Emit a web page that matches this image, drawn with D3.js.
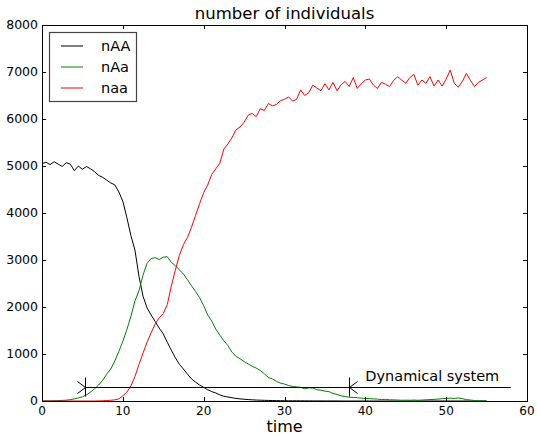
<!DOCTYPE html>
<html>
<head>
<meta charset="utf-8">
<script src="https://cdn.jsdelivr.net/npm/d3@7"></script>
<style>
  body { margin: 0; background: #fff; }
  svg { display: block; }
  text { font-family: "DejaVu Sans", sans-serif; }
</style>
</head>
<body>
<div id="chart"></div>
<script>
// sampled every 0.5 time units, t = 0 .. 55
const times = d3.range(0, 55.001, 0.5);

const nAA = [
  5050, 5080, 5030, 5090, 5040, 4990, 5070, 5040, 4900, 5000,
  4930, 4990, 4940, 4880, 4800, 4760, 4700, 4640, 4600, 4450,
  4250, 3900, 3520, 3210, 2650, 2230, 1980, 1830, 1690, 1550,
  1430, 1250, 1080, 920, 780, 680, 570, 470, 400, 340,
  290, 240, 200, 170, 130, 100, 85, 70, 55, 45,
  38, 30, 25, 20, 17, 14, 12, 10, 8, 7,
  6, 5, 5, 4, 4, 3, 3, 2, 2, 2,
  1, 1, 1, 1, 0, 0, 0, 0, 0, 0,
  0, 0, 0, 0, 0, 0, 0, 0, 0, 0,
  0, 0, 0, 0, 0, 0, 0, 0, 0, 0,
  0, 0, 0, 0, 0, 0, 0, 0, 0, 0,
  0
];

const nAa = [
  0, 2, 3, 5, 8, 12, 18, 28, 45, 65,
  90, 130, 190, 260, 340, 440, 570, 680, 850, 1050,
  1270, 1520, 1800, 2130, 2350, 2680, 2930, 3030, 3050, 3010,
  3060, 3070, 2950, 2880, 2790, 2700, 2580, 2450, 2330, 2200,
  2030, 1830, 1700, 1530, 1400, 1280, 1180, 1040, 950, 900,
  840, 790, 740, 700, 650, 580, 500, 470, 420, 380,
  360, 330, 310, 300, 290, 260, 280, 275, 240, 230,
  210, 200, 160, 140, 110, 95, 80, 75, 70, 60,
  55, 50, 45, 40, 30, 35, 25, 25, 20, 15,
  18, 15, 20, 15, 20, 25, 30, 35, 40, 50,
  55, 60, 55, 65, 50, 30, 20, 10, 5, 3,
  0
];

const naa = [
  0, 0, 0, 0, 0, 0, 0, 0, 0, 0,
  0, 0, 0, 0, 2, 5, 10, 15, 25, 45,
  110, 190, 320, 520, 780, 1020, 1250, 1450, 1640, 1770,
  1860, 2050, 2450, 2790, 3100, 3330, 3480, 3700, 3950, 4200,
  4430, 4600, 4820, 4940, 5060, 5360, 5470, 5600, 5770, 5830,
  5930, 6080, 6120, 6050, 6220, 6180, 6330, 6280, 6310, 6390,
  6420, 6470, 6380, 6420, 6620, 6500, 6560, 6720, 6660, 6600,
  6750, 6620, 6780, 6600, 6730, 6800, 6690, 6880, 6650, 6750,
  6830, 6850, 6720, 6650, 6780, 6740, 6690, 6820, 6900, 6830,
  6760, 6880, 6950, 6720, 6830, 6760, 6900, 6700, 6830, 6700,
  6850, 7040, 6760, 6680, 6800, 6970, 6820, 6690, 6780, 6830,
  6880
];

const seriesNames = ["nAA", "nAa", "naa"];
const seriesColors = ["#000000", "#008000", "#ff0000"];
const xTicks = [0, 10, 20, 30, 40, 50, 60];
const yTicks = [0, 1000, 2000, 3000, 4000, 5000, 6000, 7000, 8000];

// annotation: span of the dynamical system
const spanStart = 5.3, spanMark = 38, spanEnd = 58, spanLevel = 300;
const spanLabel = "Dynamical system";

const W = 537, H = 436;
const margin = { top: 25, right: 10, bottom: 35, left: 42 };
const width = W - margin.left - margin.right;
const height = H - margin.top - margin.bottom;

const svg = d3.select("#chart").append("svg")
    .attr("width", W)
    .attr("height", H);

const g = svg.append("g")
    .attr("transform", `translate(${margin.left},${margin.top})`);

const x = d3.scaleLinear().domain([0, 60]).range([0, width]);
const y = d3.scaleLinear().domain([0, 8000]).range([height, 0]);

// curves
const allSeries = [nAA, nAa, naa];
const line = d3.line()
    .x((d, i) => x(times[i]))
    .y(d => y(d));

allSeries.forEach((vals, k) => {
    g.append("path")
        .datum(vals)
        .attr("fill", "none")
        .attr("stroke", seriesColors[k])
        .attr("stroke-width", 1)
        .attr("stroke-linejoin", "round")
        .attr("d", line);
});

// annotation
const ann = g.append("g").attr("stroke", "#000").attr("stroke-width", 1).attr("fill", "none");
const yl = Math.round(y(spanLevel)) + 0.5;
ann.append("line")
    .attr("x1", x(spanStart)).attr("x2", x(spanEnd))
    .attr("y1", yl).attr("y2", yl);
[spanStart, spanMark].forEach((t, i) => {
    const px = Math.round(x(t)) + 0.5;
    ann.append("line")
        .attr("x1", px).attr("x2", px)
        .attr("y1", yl - 10).attr("y2", yl + 9);
    const dir = i === 0 ? -1 : 1;
    ann.append("path")
        .attr("d", `M${px + dir * 8},${yl - 6}L${px},${yl}L${px + dir * 8},${yl + 6}`);
});
g.append("text")
    .attr("x", x(40))
    .attr("y", yl - 7)
    .attr("font-size", "14.5px")
    .attr("fill", "#000")
    .text(spanLabel);

// frame
g.append("rect")
    .attr("x", 0.5).attr("y", 0.5)
    .attr("width", width).attr("height", height)
    .attr("fill", "none")
    .attr("stroke", "#000")
    .attr("stroke-width", 1);

// ticks (inward, all four sides)
const tk = g.append("g").attr("stroke", "#000").attr("stroke-width", 1);
xTicks.forEach(t => {
    const px = Math.round(x(t)) + 0.5;
    tk.append("line").attr("x1", px).attr("x2", px).attr("y1", height).attr("y2", height - 4);
    tk.append("line").attr("x1", px).attr("x2", px).attr("y1", 0).attr("y2", 4);
});
yTicks.forEach(v => {
    const py = Math.round(y(v)) + 0.5;
    tk.append("line").attr("x1", 0).attr("x2", 4).attr("y1", py).attr("y2", py);
    tk.append("line").attr("x1", width).attr("x2", width - 4).attr("y1", py).attr("y2", py);
});

g.selectAll(".xlab")
    .data(xTicks)
    .enter().append("text")
    .attr("x", d => x(d))
    .attr("y", height + 14)
    .attr("text-anchor", "middle")
    .attr("font-size", "12px")
    .text(d => d);

g.selectAll(".ylab")
    .data(yTicks)
    .enter().append("text")
    .attr("x", -4)
    .attr("y", d => y(d))
    .attr("dy", "0.35em")
    .attr("text-anchor", "end")
    .attr("font-size", "12.5px")
    .text(d => d);

// titles
g.append("text")
    .attr("x", width / 2)
    .attr("y", -6)
    .attr("text-anchor", "middle")
    .attr("font-size", "16.5px")
    .text("number of individuals");

g.append("text")
    .attr("x", width / 2)
    .attr("y", height + 31)
    .attr("text-anchor", "middle")
    .attr("font-size", "16px")
    .text("time");

// legend
const leg = svg.append("g").attr("transform", "translate(49,32)");
leg.append("rect")
    .attr("x", 0.5).attr("y", 0.5)
    .attr("width", 87).attr("height", 69)
    .attr("fill", "#fff")
    .attr("stroke", "#444")
    .attr("stroke-width", 1.2);
seriesNames.forEach((name, k) => {
    const ly = 14 + k * 21;
    leg.append("line")
        .attr("x1", 12).attr("x2", 34)
        .attr("y1", ly).attr("y2", ly)
        .attr("stroke", seriesColors[k])
        .attr("stroke-width", 1);
    leg.append("text")
        .attr("x", 52)
        .attr("y", ly)
        .attr("dy", "0.36em")
        .attr("font-size", "14.5px")
        .text(name);
});
</script>
</body>
</html>
